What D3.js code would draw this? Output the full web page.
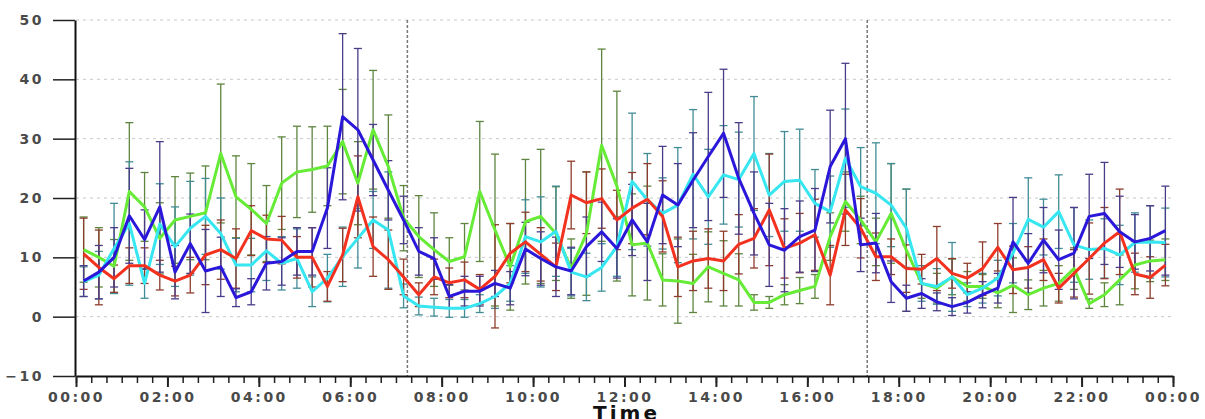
<!DOCTYPE html>
<html>
<head>
<meta charset="utf-8">
<script src="https://cdn.jsdelivr.net/npm/d3@7"></script>
<style>
  body { margin: 0; background: #fff; }
  .tick text { font-family: "DejaVu Sans", sans-serif; font-weight: bold; font-size: 14px; fill: #4a4a4a; letter-spacing: 2.5px; }
</style>
</head>
<body>
<div id="chart"></div>
<script>
// 20-minute bins, points sit in the middle of each bin (hours)
const times = d3.range(72).map(i => (i * 20 + 10) / 60);

const blueMean = [6, 7.5, 10, 17, 13, 18.5, 7.5, 12.3, 7.7, 8.4, 3.2, 4.2,
  9, 9.3, 11, 11, 18.3, 33.7, 31.5, 26.4, 21.3, 16.3, 11, 9.8,
  3.4, 4.3, 4.3, 5.6, 4.8, 11.4, 9.8, 8.4, 7.7, 11.8, 14.3, 11.5,
  16.3, 12.6, 20.5, 18.8, 23, 27, 30.9, 23.3, 17.4, 12.1, 11.2, 13.5,
  14.6, 25.3, 30, 12.1, 12.4, 5.9, 3.1, 3.9, 2.5, 1.7, 2.4, 3.7,
  4.8, 12.6, 9, 12.9, 9.6, 10.7, 16.9, 17.4, 14.3, 12.6, 13.2, 14.5];
const blueErr = [2.6, 4.5, 5, 8, 5, 11, 4.5, 5, 7, 5, 1.5, 2.2,
  4.5, 4, 4, 4, 6.8, 14, 13.7, 6, 5, 4, 4, 3.5,
  2, 2.5, 2.5, 2.2, 2.8, 4.5, 4.5, 5, 4, 5, 5, 5,
  6, 6.5, 8.2, 7, 8, 10.8, 10.8, 9.4, 7, 7, 7, 6,
  7, 9.5, 12.7, 4.5, 5, 3.5, 2.2, 2.5, 1.5, 1.5, 1.8, 2.2,
  2.5, 7.5, 5, 5.5, 5, 7.7, 7.1, 8.6, 6, 4.6, 5.5, 7.5];

const redMean = [10.6, 8.3, 6.4, 8.6, 8.6, 7, 6, 7, 10.4, 11.3, 9.8, 14.5,
  13.1, 12.9, 10, 10, 5.1, 10.4, 20.2, 11.8, 9.6, 6.7, 3.7, 6.7,
  5.7, 6.2, 4.6, 6.8, 10.7, 12.6, 10.5, 8.4, 20.5, 19.2, 19.9, 16.3,
  18.3, 19.8, 16.9, 8.4, 9.4, 9.8, 9.4, 12.2, 13.2, 18, 11.5, 12.4,
  13.8, 7, 18, 14.9, 10.1, 10.1, 8.1, 8, 9.8, 7.3, 6.5, 8.1,
  11.7, 7.9, 8.3, 9.6, 4.8, 7.3, 9.8, 12.4, 14.3, 7.2, 6.6, 8.7];
const redErr = [6, 6.3, 2.3, 3, 3, 2.5, 2.5, 3, 5, 5, 5, 4.2,
  4, 4, 3.5, 5, 2.5, 4.5, 6.9, 5, 5, 3, 2, 3,
  2.5, 3, 2.5, 8.7, 5, 5, 4.5, 4, 5.7, 5.2, 5, 5,
  6, 6, 6, 5, 5, 5, 5, 5, 5, 9.4, 5, 5,
  6, 5, 6, 5, 4, 3, 4, 2.5, 5.4, 2.5, 2.5, 4.5,
  4, 4, 3.5, 3.5, 2.5, 4, 6, 6, 7.2, 3.5, 3.5, 3.5];

const greenMean = [11.3, 10, 8.5, 21.1, 18.5, 13.2, 16.3, 16.9, 17.5, 27.5, 20.2, 18.1,
  15.7, 22.5, 24.4, 24.8, 25.4, 29.5, 22.5, 31.5, 25.3, 16.6, 13.5, 11.3,
  9.3, 10.1, 21.1, 14.6, 8.4, 16, 16.9, 14, 8.1, 14, 28.9, 22,
  12.1, 12.4, 6.2, 6, 5.6, 8.4, 7.3, 6.2, 2.4, 2.4, 3.7, 4.4,
  5.1, 13.5, 19.4, 16.3, 12.6, 17.4, 11.2, 5.6, 4.8, 6.7, 5.1, 5.1,
  4, 5.3, 3.7, 4.8, 5.6, 8.1, 2.2, 3.7, 6.2, 8.7, 9.4, 9.6];
const greenErr = [5.5, 5, 4.5, 11.6, 5.8, 6, 7.3, 7.3, 7.9, 11.7, 6.9, 7.7,
  6.4, 7.8, 7.7, 7.2, 6.7, 8.8, 7, 10, 8.7, 5.5, 6.9, 6.2,
  4, 5.6, 11.8, 12.8, 7.3, 10.5, 11.3, 7.9, 5, 10.4, 16.2, 16,
  8.6, 9.6, 4.4, 7.1, 4.9, 5.9, 5.5, 4.4, 1.3, 1, 1.7, 2.2,
  2, 4, 5, 4, 4, 8.4, 10.3, 2.5, 2.5, 3, 2.5, 2,
  2.5, 4.6, 2.5, 3, 3, 3.5, 0.8, 2, 4.2, 4, 3.5, 3.5];

const cyanMean = [5.9, 7, 11.5, 15.7, 5.6, 15.6, 11.8, 14.9, 16.9, 14, 8.7, 8.7,
  11.1, 9, 9.8, 4.2, 6.5, 10.1, 13.2, 16.3, 14.6, 3.5, 1.8, 1.6,
  1.4, 1.4, 2.2, 3.4, 5.6, 13.5, 12.6, 14.4, 7.5, 6.7, 8.3, 11.8,
  22.8, 19.7, 17.4, 18.8, 24, 20.2, 23.9, 23.1, 27.5, 20.5, 22.8, 23,
  19.1, 17.7, 26.7, 21.9, 20.8, 18.8, 14.9, 5.6, 5.1, 6.7, 3.7, 4.8,
  6.5, 10.7, 16.4, 15.1, 17.7, 12.1, 11.3, 11.5, 10.4, 12.5, 12.6, 12.5];
const cyanErr = [2.5, 4, 7.6, 10.4, 2.5, 6.8, 6.7, 7.9, 6.4, 6, 4.5, 4.5,
  5, 4.5, 5, 2.5, 4, 5, 5, 4.8, 9.8, 2, 1.5, 1.5,
  1.5, 1.5, 1.5, 2, 3, 6.2, 7.6, 7.6, 4, 4, 4, 5,
  11.5, 7.8, 6, 9.7, 10.9, 8, 8.3, 8, 9.6, 7, 8.4, 8.6,
  5.7, 6, 8.3, 6.6, 8.5, 7, 6.6, 3, 3, 5.8, 2, 2.5,
  3, 5, 7, 4.7, 6.2, 6.3, 5, 5, 5, 5, 6.1, 5.8];

const yTicks = [-10, 0, 10, 20, 30, 40, 50];
const eventTimes = [7.25, 17.31];

const series = [
  {name: "green", mean: greenMean, err: greenErr, line: "#66ec36", bar: "#5e853f"},
  {name: "cyan", mean: cyanMean, err: cyanErr, line: "#36e6f0", bar: "#418c96"},
  {name: "red", mean: redMean, err: redErr, line: "#f2311f", bar: "#8e3d2d"},
  {name: "blue", mean: blueMean, err: blueErr, line: "#2b17d9", bar: "#4b3c8a"}
];

const margin = {top: 20, right: 32, bottom: 43, left: 76};
const width = 1205 - margin.left - margin.right;
const height = 419 - margin.top - margin.bottom;

const svg = d3.select("#chart")
    .append("svg")
    .attr("width", 1205)
    .attr("height", 419)
    .append("g")
    .attr("transform", "translate(" + margin.left + "," + margin.top + ")");

const x = d3.scaleLinear().domain([0, 24]).range([0, width]);
const y = d3.scaleLinear().domain([-10, 50]).range([height, 0]);

// dotted grid
svg.selectAll(".grid")
    .data(yTicks.filter(d => d > -10))
    .enter().append("line")
    .attr("x1", 0).attr("x2", width)
    .attr("y1", d => y(d)).attr("y2", d => y(d))
    .style("stroke", "#c8c8c8")
    .style("stroke-dasharray", "3,4");

// event markers
svg.selectAll(".event")
    .data(eventTimes)
    .enter().append("line")
    .attr("x1", d => x(d)).attr("x2", d => x(d))
    .attr("y1", 0).attr("y2", height)
    .style("stroke", "#777")
    .style("stroke-width", 1.5)
    .style("stroke-dasharray", "3,2");

// error bars
series.forEach(s => {
    const g = svg.append("g").attr("class", "err-" + s.name)
        .style("stroke", s.bar).style("stroke-width", 1.3);
    const pts = times.map((t, i) => ({t: t, lo: s.mean[i] - s.err[i], hi: s.mean[i] + s.err[i]}));
    g.selectAll(".v").data(pts).enter().append("line")
        .attr("x1", d => x(d.t)).attr("x2", d => x(d.t))
        .attr("y1", d => y(d.lo)).attr("y2", d => y(d.hi));
    g.selectAll(".top").data(pts).enter().append("line")
        .attr("x1", d => x(d.t) - 4).attr("x2", d => x(d.t) + 4)
        .attr("y1", d => y(d.hi)).attr("y2", d => y(d.hi));
    g.selectAll(".bot").data(pts).enter().append("line")
        .attr("x1", d => x(d.t) - 4).attr("x2", d => x(d.t) + 4)
        .attr("y1", d => y(d.lo)).attr("y2", d => y(d.lo));
});

// mean lines
const line = d3.line().x(d => x(d[0])).y(d => y(d[1]));
series.forEach(s => {
    svg.append("path")
        .datum(times.map((t, i) => [t, s.mean[i]]))
        .attr("d", line)
        .style("fill", "none")
        .style("stroke", s.line)
        .style("stroke-width", 3)
        .style("stroke-linejoin", "round");
});

// axes
const yAxis = svg.append("g")
    .attr("transform", "translate(-1,0)")
    .call(d3.axisLeft(y).tickValues(yTicks).tickSize(22).tickSizeOuter(0).tickPadding(9));
yAxis.select(".domain").style("stroke", "#111").style("stroke-width", 2);
yAxis.selectAll(".tick line").style("stroke", "#222").style("stroke-width", 1.5);

const fmt = h => d3.format("02")(h % 24) + ":00";
svg.append("g")
    .attr("transform", `translate(0, ${height})`)
    .call(d3.axisBottom(x).tickValues(d3.range(0, 24.01, 1 / 3)).tickSize(7).tickFormat(""))
    .call(g => g.select(".domain").remove())
    .selectAll(".tick line").style("stroke", "#222").style("stroke-width", 1.5);

const xAxis = svg.append("g")
    .attr("transform", `translate(0, ${height})`)
    .call(d3.axisBottom(x).tickValues(d3.range(0, 25, 2)).tickSize(11).tickSizeOuter(0).tickPadding(5).tickFormat(fmt));
xAxis.select(".domain").style("stroke", "#111").style("stroke-width", 2);
xAxis.selectAll(".tick line").style("stroke", "#222").style("stroke-width", 2);

svg.append("text")
    .attr("x", width / 2 + 2)
    .attr("y", height + 44)
    .attr("text-anchor", "middle")
    .style("font-family", "DejaVu Sans, sans-serif")
    .style("font-weight", "bold")
    .style("font-size", "20px")
    .style("letter-spacing", "3px")
    .style("fill", "#111")
    .text("Time");
</script>
</body>
</html>
